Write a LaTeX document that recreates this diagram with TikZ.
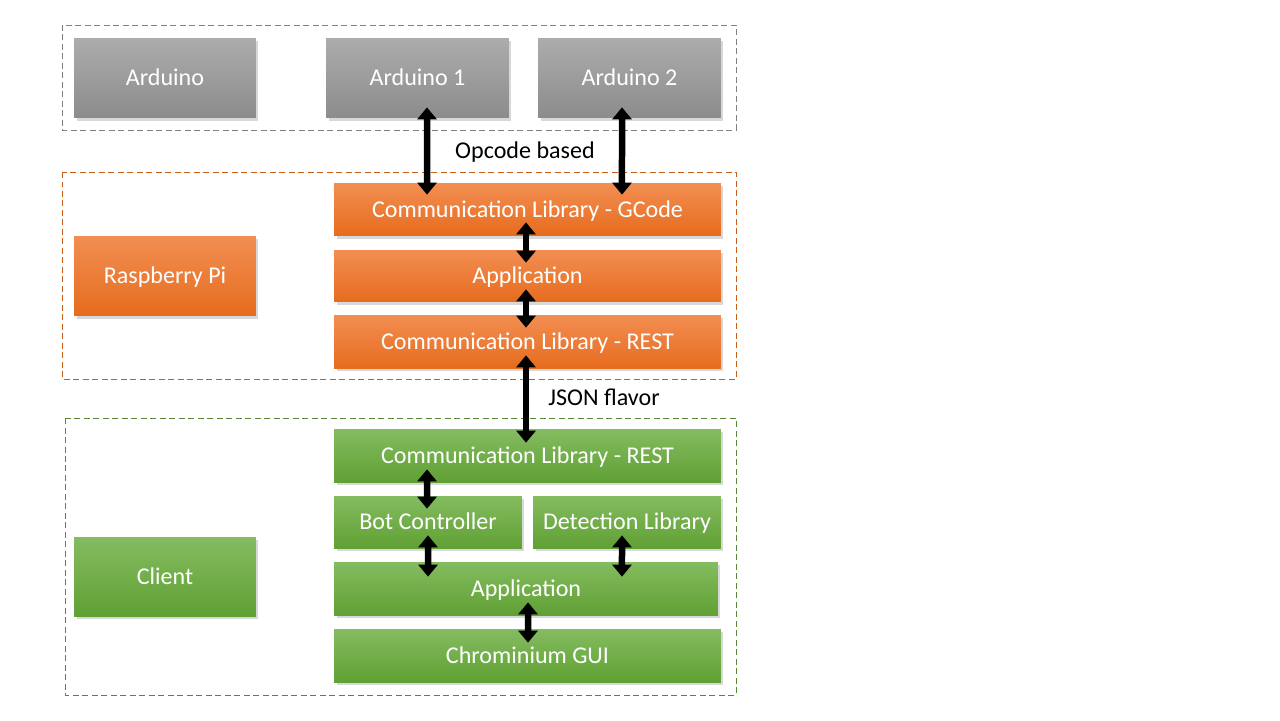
\documentclass[tikz,border=0pt]{standalone}
\usepackage{fontspec}
\setmainfont{Carlito}
\usetikzlibrary{arrows.meta,shadows}
\definecolor{grayT}{RGB}{172,172,172}
\definecolor{grayB}{RGB}{140,140,140}
\definecolor{orT}{RGB}{242,142,82}
\definecolor{orB}{RGB}{230,108,30}
\definecolor{grT}{RGB}{132,188,96}
\definecolor{grB}{RGB}{96,160,52}
\definecolor{grayD}{RGB}{128,128,128}
\definecolor{orD}{RGB}{200,95,25}
\definecolor{grD}{RGB}{90,135,55}
\tikzset{
  blk/.style={inner sep=0pt, text=white, font=\fontsize{13.7pt}{16pt}\selectfont,
    text height=11.5pt, text depth=2.68pt,
    drop shadow={opacity=0.3, shadow xshift=0.05cm, shadow yshift=-0.06cm}},
  graybox/.style={blk, top color=grayT, bottom color=grayB},
  orbox/.style={blk, top color=orT, bottom color=orB},
  grbox/.style={blk, top color=grT, bottom color=grB},
  side/.style={minimum width=3.64cm, minimum height=1.6cm},
  wide/.style={minimum width=7.74cm, minimum height=1.06cm},
  half/.style={minimum width=3.76cm, minimum height=1.04cm},
  frame/.style={dash pattern=on 0.12cm off 0.07cm, line width=0.5pt},
  dbl/.style={line width=0.13cm, {Triangle[width=0.38cm,length=0.24cm]}-{Triangle[width=0.38cm,length=0.24cm]}},
  lbl/.style={inner sep=0pt, text=black, font=\fontsize{13.7pt}{16pt}\selectfont,
    text height=11.5pt, text depth=2.68pt}
}
\begin{document}
\begin{tikzpicture}[x=0.02cm,y=-0.02cm]
\useasboundingbox[fill=white] (0,0) rectangle (1280,720);
% frames
\draw[frame, grayD] (62,25) rectangle (736,130);
\draw[frame, orD] (62,172) rectangle (736,379);
\draw[frame, grD] (65,418) rectangle (736,695);
% gray
\node[graybox, side] (ard) at (165,78) {Arduino};
\node[graybox, side, minimum width=3.66cm] (a1) at (417.5,78) {Arduino 1};
\node[graybox, side, minimum width=3.66cm] (a2) at (629.5,78) {Arduino 2};
% orange
\node[orbox, side] (rpi) at (165,276) {Raspberry Pi};
\node[orbox, wide] (gc) at (527.5,209.5) {Communication Library - GCode};
\node[orbox, wide, minimum height=1.04cm] (oapp) at (527.5,276) {Application};
\node[orbox, wide] (orest) at (527.5,341.5) {Communication Library - REST};
% green
\node[grbox, side, minimum height=1.58cm] (cli) at (165,576.5) {Client};
\node[grbox, wide] (grest) at (527.5,455.5) {Communication Library - REST};
\node[grbox, half] (bot) at (428,522) {Bot Controller};
\node[grbox, half] (det) at (627,522) {Detection Library};
\node[grbox, wide, minimum width=7.68cm] (gapp) at (526,588.5) {Application};
\node[grbox, wide] (chr) at (527.5,655.5) {Chrominium GUI};
% labels
\node[lbl] (op) at (525,151) {Opcode based};
\node[lbl] (js) at (604,398) {JSON flavor};
% arrows
\draw[dbl, shorten <=-0.22cm, shorten >=-0.24cm] ([xshift=0.19cm]a1.south) -- ([xshift=-2.01cm]gc.north);
\draw[dbl, shorten <=-0.22cm, shorten >=-0.24cm] ([xshift=-0.15cm]a2.south) -- ([xshift=1.89cm]gc.north);
\draw[dbl, shorten <=-0.28cm, shorten >=-0.26cm] ([xshift=-0.03cm]gc.south) -- ([xshift=-0.03cm]oapp.north);
\draw[dbl, shorten <=-0.26cm, shorten >=-0.26cm] ([xshift=-0.03cm]oapp.south) -- ([xshift=-0.03cm]orest.north);
\draw[dbl, shorten <=-0.26cm, shorten >=-0.28cm] ([xshift=-0.03cm]orest.south) -- ([xshift=-0.03cm]grest.north);
\draw[dbl, shorten <=-0.26cm, shorten >=-0.26cm] ([xshift=-2.01cm]grest.south) -- ([xshift=-0.02cm]bot.north);
\draw[dbl, shorten <=-0.26cm, shorten >=-0.30cm] (bot.south) -- ([xshift=-1.96cm]gapp.north);
\draw[dbl, shorten <=-0.26cm, shorten >=-0.30cm] ([xshift=-0.1cm]det.south) -- ([xshift=1.92cm]gapp.north);
\draw[dbl, shorten <=-0.26cm, shorten >=-0.28cm] ([xshift=0.04cm]gapp.south) -- ([xshift=0.01cm]chr.north);
\end{tikzpicture}
\end{document}
